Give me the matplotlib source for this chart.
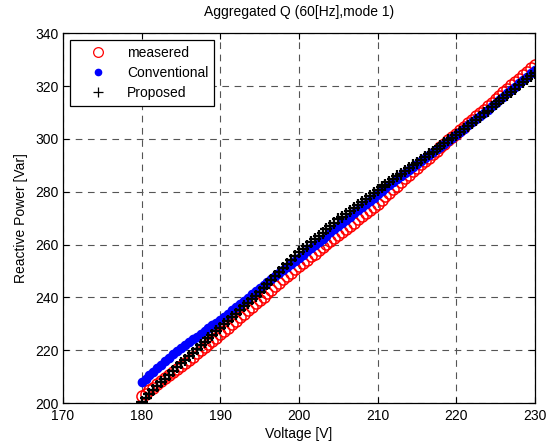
import numpy as np
import matplotlib
matplotlib.use("Agg")
import matplotlib.pyplot as plt

plt.rcParams["font.family"] = ["Liberation Sans", "DejaVu Sans"]
plt.rcParams["font.size"] = 10

# Supply voltage sweep [V], 0.5 V steps
voltage = np.arange(180, 230.5, 0.5)

# Reactive power readings [Var]
measured = [
    202.5, 203.6, 204.8, 205.9, 207.1, 208.2, 209.4, 210.5, 211.7, 212.8,
    214.0, 215.2, 216.4, 217.6, 218.8, 220.0, 221.2, 222.4, 223.6, 224.8,
    226.0, 227.3, 228.6, 229.9, 231.2, 232.5, 233.8, 235.1, 236.4, 237.7,
    239.0, 240.3, 241.6, 242.9, 244.2, 245.5, 246.8, 248.1, 249.4, 250.7,
    252.0, 253.2, 254.3, 255.5, 256.6, 257.8, 258.9, 260.1, 261.2, 262.4,
    263.5, 264.7, 265.9, 267.1, 268.3, 269.5, 270.7, 271.9, 273.1, 274.3,
    275.5, 276.9, 278.2, 279.6, 280.9, 282.3, 283.6, 285.0, 286.3, 287.7,
    289.0, 290.3, 291.6, 292.9, 294.2, 295.5, 296.8, 298.1, 299.4, 300.7,
    302.0, 303.3, 304.6, 305.9, 307.2, 308.5, 309.8, 311.1, 312.4, 313.7,
    315.0, 316.3, 317.6, 318.9, 320.2, 321.5, 322.8, 324.1, 325.4, 326.7,
    328.0,
]
conventional = [
    208.0, 209.3, 210.6, 211.9, 213.2, 214.5, 215.8, 217.1, 218.4, 219.7,
    221.0, 222.1, 223.1, 224.2, 225.2, 226.3, 227.3, 228.4, 229.4, 230.5,
    231.5, 232.7, 233.9, 235.1, 236.3, 237.5, 238.7, 239.9, 241.1, 242.3,
    243.5, 244.7, 245.8, 247.0, 248.1, 249.3, 250.4, 251.6, 252.7, 253.9,
    255.0, 256.2, 257.4, 258.6, 259.8, 261.0, 262.2, 263.4, 264.6, 265.8,
    267.0, 268.2, 269.4, 270.6, 271.8, 273.0, 274.2, 275.4, 276.6, 277.8,
    279.0, 280.2, 281.3, 282.5, 283.6, 284.8, 285.9, 287.1, 288.2, 289.4,
    290.5, 291.6, 292.7, 293.8, 294.9, 296.0, 297.1, 298.2, 299.3, 300.4,
    301.5, 302.7, 303.9, 305.1, 306.3, 307.5, 308.7, 309.9, 311.1, 312.3,
    313.5, 314.8, 316.0, 317.3, 318.5, 319.8, 321.0, 322.3, 323.5, 324.8,
    326.0,
]
proposed = [
    200.5, 202.0, 203.4, 204.9, 206.3, 207.8, 209.2, 210.7, 212.1, 213.6,
    215.0, 216.4, 217.7, 219.1, 220.4, 221.8, 223.1, 224.5, 225.8, 227.2,
    228.5, 229.9, 231.2, 232.6, 233.9, 235.3, 236.6, 238.0, 239.3, 240.7,
    242.0, 243.5, 245.0, 246.5, 248.0, 249.5, 251.0, 252.5, 254.0, 255.5,
    257.0, 258.3, 259.5, 260.8, 262.0, 263.3, 264.5, 265.8, 267.0, 268.3,
    269.5, 270.6, 271.7, 272.8, 273.9, 275.0, 276.1, 277.2, 278.3, 279.4,
    280.5, 281.6, 282.6, 283.7, 284.7, 285.8, 286.8, 287.9, 288.9, 290.0,
    291.0, 292.1, 293.1, 294.2, 295.2, 296.3, 297.3, 298.4, 299.4, 300.5,
    301.5, 302.7, 303.8, 305.0, 306.1, 307.3, 308.4, 309.6, 310.7, 311.9,
    313.0, 314.2, 315.4, 316.6, 317.8, 319.0, 320.2, 321.4, 322.6, 323.8,
    325.0,
]

fig = plt.figure(figsize=(5.52, 4.42), dpi=100)
ax = fig.add_axes([0.114, 0.088, 0.855, 0.837])

ax.plot(voltage, measured, "o", mfc="none", mec="red", ms=8, mew=1.1,
        label="measered")
ax.plot(voltage, conventional, ".", color="blue", ms=12, label="Conventional")
ax.plot(voltage, proposed, "+", color="black", ms=8, mew=1.6,
        label="Proposed")

ax.set_xlim(170, 230)
ax.set_ylim(200, 340)
ax.set_xticks(np.arange(170, 231, 10))
ax.set_yticks(np.arange(200, 341, 20))
ax.tick_params(direction="in", top=True, right=True, length=4, width=0.8)
ax.tick_params(axis="x", pad=4)
ax.tick_params(axis="y", pad=3)
ax.grid(True, color="#555555", linestyle=(0, (6, 5)), linewidth=0.8)
for s in ax.spines.values():
    s.set_linewidth(0.9)

ax.set_xlabel("Voltage [V]", labelpad=3)
ax.set_ylabel("Reactive Power [Var]", labelpad=5)
ax.set_title("Aggregated Q (60[Hz],mode 1)", fontsize=10, pad=12)

leg = ax.legend(loc="upper left", fancybox=False, framealpha=1,
                edgecolor="black", borderpad=0.4, handletextpad=0.4,
                borderaxespad=0.5, labelspacing=0.45, handlelength=3.3)
leg.get_frame().set_linewidth(0.9)
hs = leg.legend_handles
hs[0].set_markersize(7)
hs[0].set_markeredgewidth(0.9)
hs[1].set_markersize(9)
hs[2].set_markersize(7)
hs[2].set_markeredgewidth(0.9)

fig.savefig("out.png", dpi=100)
